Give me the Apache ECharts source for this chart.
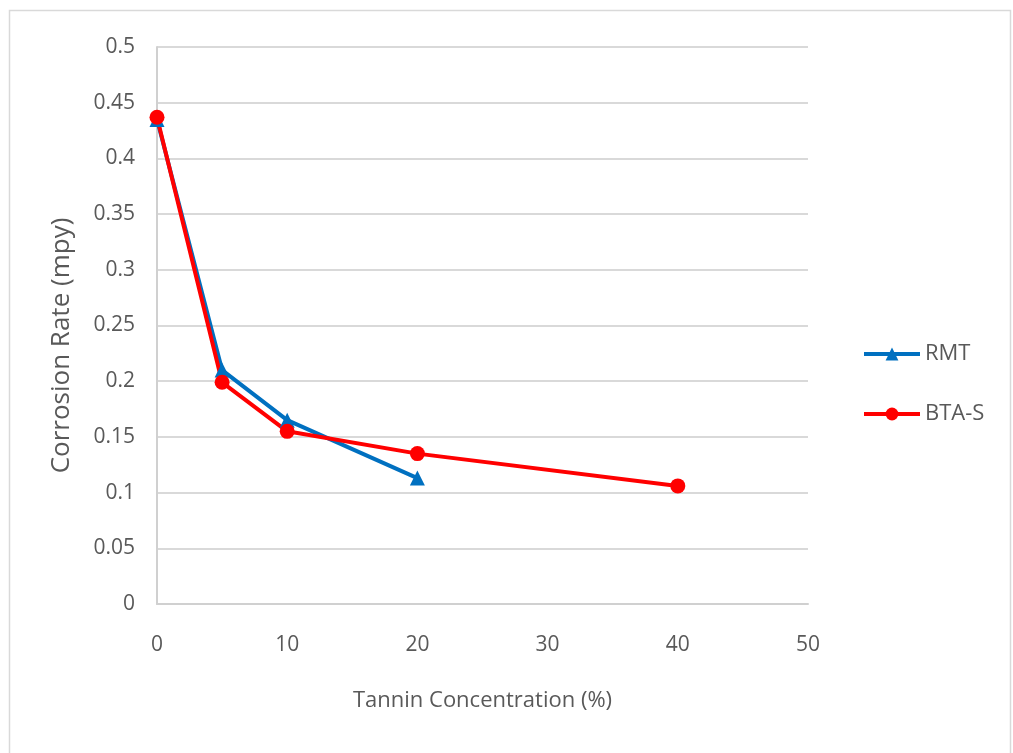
<!DOCTYPE html>
<html>
<head>
<meta charset="utf-8">
<script src="https://cdn.jsdelivr.net/npm/echarts@6/dist/echarts.min.js"></script>
<style>html,body{margin:0;padding:0;background:#fff;}#chart{width:1013px;height:753px;}</style>
</head>
<body>
<div id="chart"></div>
<script>
const rmtX = [0, 5, 10, 20];
const rmtY = [0.435, 0.21, 0.165, 0.113];
const btaX = [0, 5, 10, 20, 40];
const btaY = [0.437, 0.199, 0.155, 0.135, 0.106];
const seriesNames = ['RMT', 'BTA-S'];
const xTitle = 'Tannin Concentration (%)';
const yTitle = 'Corrosion Rate (mpy)';

const font = "'Open Sans', sans-serif";
const chart = echarts.init(document.getElementById('chart'));
chart.setOption({
  animation: false,
  graphic: [{
    type: 'rect', left: 7, top: 8, shape: { width: 1001, height: 770 },
    style: { fill: 'none', stroke: '#d9d9d9', lineWidth: 1.5 }, silent: true
  }],
  grid: { left: 157, right: 205, top: 47, bottom: 149 },
  legend: {
    orient: 'vertical', left: 857, top: 338, itemGap: 38,
    itemWidth: 56, itemHeight: 16,
    textStyle: { color: '#595959', fontSize: 22, fontFamily: font },
    data: [
      { name: seriesNames[0], lineStyle: { width: 4 } },
      { name: seriesNames[1], lineStyle: { width: 4 } }
    ]
  },
  xAxis: {
    type: 'value', min: 0, max: 50, interval: 10,
    name: xTitle, nameLocation: 'middle', nameGap: 86,
    nameTextStyle: { color: '#595959', fontSize: 22, fontFamily: font },
    axisLine: { show: true, lineStyle: { color: '#d0d0d0', width: 2 } },
    axisTick: { show: false },
    splitLine: { show: false },
    axisLabel: { color: '#595959', fontSize: 21, margin: 31, fontFamily: font }
  },
  yAxis: {
    type: 'value', min: 0, max: 0.5, interval: 0.05,
    name: yTitle, nameLocation: 'middle', nameGap: 82,
    nameTextStyle: { color: '#595959', fontSize: 26, fontFamily: font, padding: [0, 40, 0, 0] },
    axisLine: { show: true, lineStyle: { color: '#d0d0d0', width: 2 } },
    axisTick: { show: false },
    splitLine: { show: true, lineStyle: { color: '#d9d9d9', width: 2 } },
    axisLabel: { color: '#595959', fontSize: 21, margin: 22, fontFamily: font }
  },
  series: [{
    name: seriesNames[0], type: 'line',
    data: rmtX.map((x, i) => [x, rmtY[i]]),
    symbol: 'triangle', symbolSize: 15,
    lineStyle: { color: '#0070c0', width: 4 },
    itemStyle: { color: '#0070c0' }
  }, {
    name: seriesNames[1], type: 'line',
    data: btaX.map((x, i) => [x, btaY[i]]),
    symbol: 'circle', symbolSize: 15,
    lineStyle: { color: '#ff0000', width: 4 },
    itemStyle: { color: '#ff0000' }
  }]
});
</script>
</body>
</html>
